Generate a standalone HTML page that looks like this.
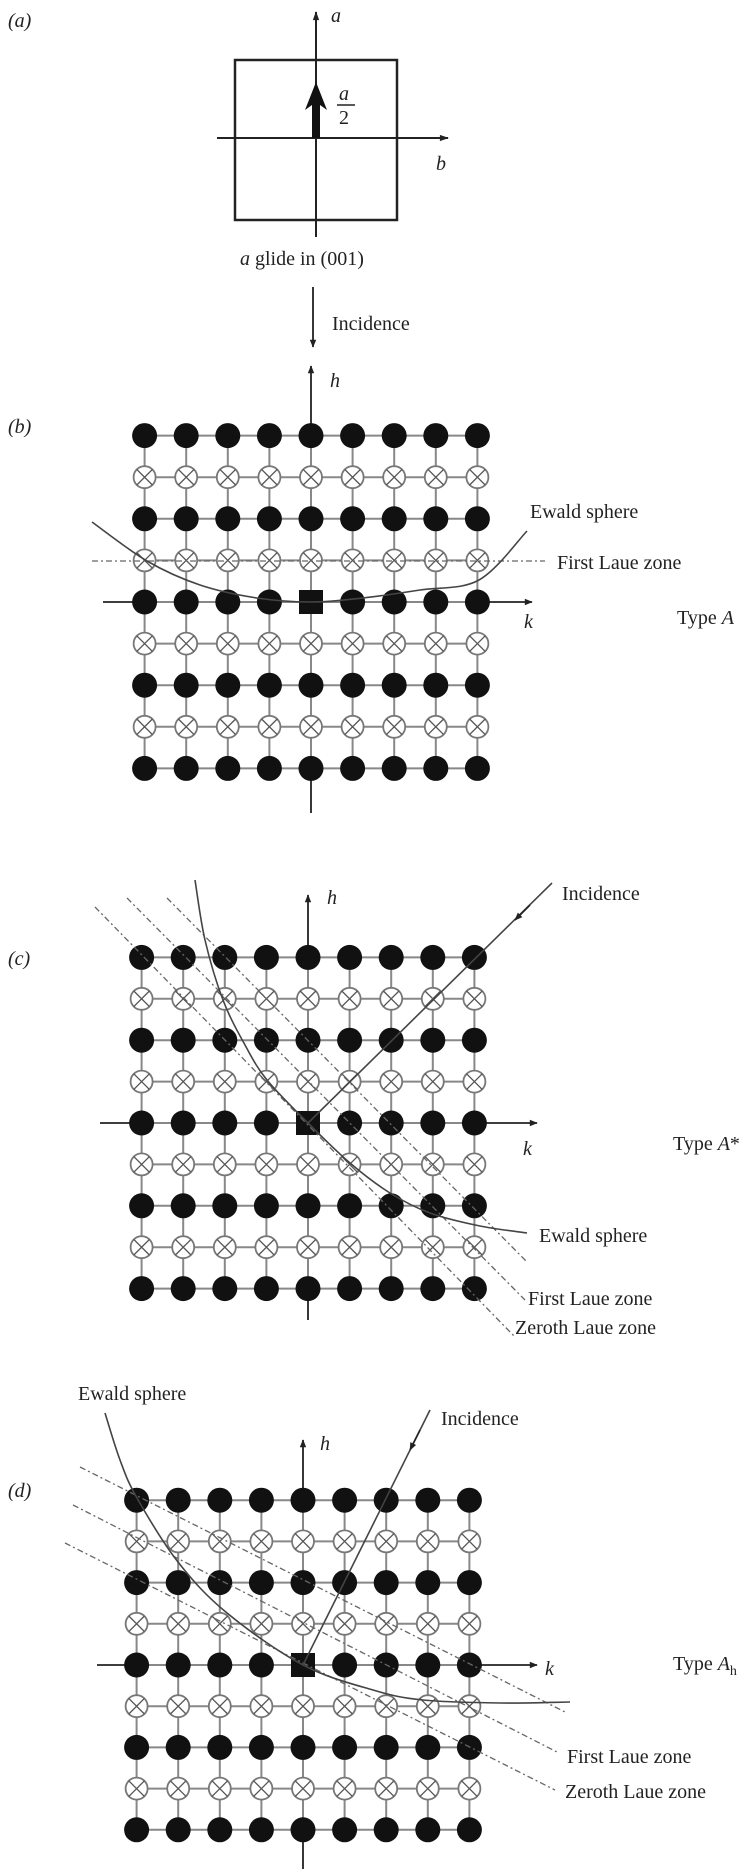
<!DOCTYPE html>
<html><head><meta charset="utf-8"><style>
html,body{margin:0;padding:0;background:#fff;}
svg{display:block;}
text{font-family:"Liberation Serif",serif;fill:#222;}
</style></head><body>
<svg id="fig" width="756" height="1869" viewBox="0 0 756 1869" xmlns="http://www.w3.org/2000/svg">
<defs>
<marker id="ah" viewBox="0 0 10 10" refX="9" refY="5" markerWidth="14" markerHeight="8" orient="auto" markerUnits="userSpaceOnUse"><path d="M0,1 L10,5 L0,9 Z" fill="#222"/></marker>
<marker id="ahs" viewBox="0 0 10 10" refX="9" refY="5" markerWidth="22" markerHeight="9" orient="auto" markerUnits="userSpaceOnUse"><path d="M0,1.5 L10,5 L0,8.5 Z" fill="#222"/></marker>
</defs>
<g>
<text x="8" y="27" font-size="20" font-style="italic">(a)</text>
<rect x="235" y="60" width="162" height="160" fill="none" stroke="#222" stroke-width="2.5"/>
<line x1="316" y1="237" x2="316" y2="12" stroke="#222" stroke-width="2" marker-end="url(#ahs)"/>
<line x1="217" y1="138" x2="448" y2="138" stroke="#222" stroke-width="2" marker-end="url(#ahs)"/>
<path d="M312,138 L312,105 L305,110 L316,82 L327,110 L320,105 L320,138 Z" fill="#111"/>
<text x="339" y="100" font-size="20" font-style="italic">a</text>
<line x1="337" y1="105" x2="355" y2="105" stroke="#222" stroke-width="1.5"/>
<text x="339" y="124" font-size="20">2</text>
<text x="331" y="22" font-size="20" font-style="italic">a</text>
<text x="436" y="170" font-size="20" font-style="italic">b</text>
<text x="240" y="265" font-size="20"><tspan font-style="italic">a</tspan> glide in (001)</text>
</g>
<g id="panels"></g>
</svg>
<script>
const panelNames = ['b','c','d'];
const centerX = [311, 308, 303];
const centerY = [602, 1123, 1665];
const spacingX = [41.6, 41.6, 41.6];
const spacingY = [41.6, 41.4, 41.2];
const gridN = 9;
const ewaldB = [[92,522],[147,561],[200,585],[257,598],[311,602],[363,598],[420,590],[479,580],[527,531]];
const ewaldC = [[195,880],[205,940],[223,1000],[245,1045],[267,1080],[308,1123],[350,1163],[390,1193],[430,1213],[480,1226],[527,1233]];
const ewaldD = [[105,1413],[120,1460],[137,1498],[178,1562],[227,1613],[303,1665],[373,1690],[423,1700],[500,1703],[570,1702]];
const laueB = [[92,561,545,561]];
const laueC = [[95,907,515,1337],[127,898,525,1300],[167,898,527,1262]];
const laueD = [[80,1467,567,1713],[73,1505,557,1752],[65,1543,555,1790]];

const NS='http://www.w3.org/2000/svg';
const root=document.getElementById('panels');
function mk(tag,attrs,parent){const e=document.createElementNS(NS,tag);for(const k in attrs)e.setAttribute(k,attrs[k]);(parent||root).appendChild(e);return e;}
function smooth(pts){let d='M'+pts[0][0]+','+pts[0][1];for(let i=0;i<pts.length-1;i++){const p0=pts[Math.max(0,i-1)],p1=pts[i],p2=pts[i+1],p3=pts[Math.min(pts.length-1,i+2)];const c1=[p1[0]+(p2[0]-p0[0])/6,p1[1]+(p2[1]-p0[1])/6],c2=[p2[0]-(p3[0]-p1[0])/6,p2[1]-(p3[1]-p1[1])/6];d+=` C${c1[0]},${c1[1]} ${c2[0]},${c2[1]} ${p2[0]},${p2[1]}`;}return d;}
function txt(x,y,s,name,italic,parent){const t=mk('text',{x:x,y:y,'font-size':20},parent);if(italic)t.setAttribute('font-style','italic');t.textContent=s;


return t;}

function grid(p,g){
  const cx=centerX[p],cy=centerY[p],sx=spacingX[p],sy=spacingY[p],h=(gridN-1)/2;
  const X=i=>cx+(i-h)*sx, Y=j=>cy+(j-h)*sy;
  for(let j=0;j<gridN;j++){const l=mk('line',{x1:X(0),y1:Y(j),x2:X(gridN-1),y2:Y(j),stroke:'#888','stroke-width':2},g);
    
    }
  for(let i=0;i<gridN;i++){const l=mk('line',{x1:X(i),y1:Y(0),x2:X(i),y2:Y(gridN-1),stroke:'#888','stroke-width':2},g);
    
    }
  for(let j=0;j<gridN;j++)for(let i=0;i<gridN;i++){
    const x=X(i),y=Y(j);
    if(j%2===0){
      if(i===h&&j===h){const r=mk('rect',{x:x-12,y:y-12,width:24,height:24,fill:'#111'},g);
        
        }
      else{const c=mk('circle',{cx:x,cy:y,r:12.5,fill:'#111'},g);
        
        }
    }else{
      const gg=mk('g',{},g);
      
      
      mk('circle',{cx:x,cy:y,r:11,fill:'#fff',stroke:'#777','stroke-width':1.8},gg);
      const d=7.8;
      mk('path',{d:`M${x-d},${y-d}L${x+d},${y+d}M${x+d},${y-d}L${x-d},${y+d}`,stroke:'#555','stroke-width':1.3},gg);
    }
  }
}
function panel(p){
  const g=mk('g',{});
  
  
  return g;
}
let g=panel(0);
let a=mk('line',{x1:313,y1:287,x2:313,y2:347,stroke:'#222','stroke-width':1.8,'marker-end':'url(#ah)'},g);


a=mk('line',{x1:311,y1:813,x2:311,y2:366,stroke:'#222','stroke-width':1.8,'marker-end':'url(#ah)'},g);


a=mk('line',{x1:103,y1:602,x2:532,y2:602,stroke:'#222','stroke-width':1.8,'marker-end':'url(#ah)'},g);


grid(0,g);
laueB.forEach(l=>{const e=mk('line',{x1:l[0],y1:l[1],x2:l[2],y2:l[3],stroke:'#666','stroke-width':1.3,'stroke-dasharray':'6,3,2,3'},g);
  
  });
a=mk('path',{d:smooth(ewaldB),fill:'none',stroke:'#444','stroke-width':1.6},g);


txt(8,433,'(b)','label-b',true,g);
txt(332,330,'Incidence','incidence-label',false,g);
txt(330,387,'h','h-axis-label',true,g);
txt(524,628,'k','k-axis-label',true,g);
txt(530,518,'Ewald sphere','ewald-sphere-label',false,g);
txt(557,569,'First Laue zone','first-laue-zone-label',false,g);
const tA=txt(677,624,'Type ','type-label',false,g);const ts=mk('tspan',{'font-style':'italic'},tA);ts.textContent='A';

g=panel(1);
a=mk('line',{x1:308,y1:1320,x2:308,y2:895,stroke:'#222','stroke-width':1.8,'marker-end':'url(#ah)'},g);


a=mk('line',{x1:100,y1:1123,x2:537,y2:1123,stroke:'#222','stroke-width':1.8,'marker-end':'url(#ah)'},g);


grid(1,g);
laueC.forEach(l=>{const e=mk('line',{x1:l[0],y1:l[1],x2:l[2],y2:l[3],stroke:'#666','stroke-width':1.3,'stroke-dasharray':'6,3,2,3'},g);
  
  });
a=mk('path',{d:smooth(ewaldC),fill:'none',stroke:'#444','stroke-width':1.6},g);


a=mk('line',{x1:552,y1:883,x2:308,y2:1123,stroke:'#444','stroke-width':1.6},g);


a=mk('line',{x1:530,y1:905,x2:515,y2:920,stroke:'#222','stroke-width':1.6,'marker-end':'url(#ah)'},g);


txt(8,965,'(c)','label-c',true,g);
txt(327,904,'h','h-axis-label',true,g);
txt(523,1155,'k','k-axis-label',true,g);
txt(562,900,'Incidence','incidence-label',false,g);
txt(539,1242,'Ewald sphere','ewald-sphere-label',false,g);
txt(528,1305,'First Laue zone','first-laue-zone-label',false,g);
txt(515,1334,'Zeroth Laue zone','zeroth-laue-zone-label',false,g);
const tC=txt(673,1150,'Type ','type-label',false,g);const tsc=mk('tspan',{'font-style':'italic'},tC);tsc.textContent='A';const tsc2=mk('tspan',{},tC);tsc2.textContent='*';

g=panel(2);
a=mk('line',{x1:303,y1:1869,x2:303,y2:1440,stroke:'#222','stroke-width':1.8,'marker-end':'url(#ah)'},g);


a=mk('line',{x1:97,y1:1665,x2:537,y2:1665,stroke:'#222','stroke-width':1.8,'marker-end':'url(#ah)'},g);


grid(2,g);
laueD.forEach(l=>{const e=mk('line',{x1:l[0],y1:l[1],x2:l[2],y2:l[3],stroke:'#666','stroke-width':1.3,'stroke-dasharray':'6,3,2,3'},g);
  
  });
a=mk('path',{d:smooth(ewaldD),fill:'none',stroke:'#444','stroke-width':1.6},g);


a=mk('line',{x1:430,y1:1410,x2:303,y2:1665,stroke:'#444','stroke-width':1.6},g);


a=mk('line',{x1:420,y1:1430,x2:410,y2:1450,stroke:'#222','stroke-width':1.6,'marker-end':'url(#ah)'},g);


txt(8,1497,'(d)','label-d',true,g);
txt(320,1450,'h','h-axis-label',true,g);
txt(545,1675,'k','k-axis-label',true,g);
txt(441,1425,'Incidence','incidence-label',false,g);
txt(78,1400,'Ewald sphere','ewald-sphere-label',false,g);
txt(567,1763,'First Laue zone','first-laue-zone-label',false,g);
txt(565,1798,'Zeroth Laue zone','zeroth-laue-zone-label',false,g);
const tD=txt(673,1670,'Type ','type-label',false,g);const tsd=mk('tspan',{'font-style':'italic'},tD);tsd.textContent='A';const tsd2=mk('tspan',{'font-size':14,dy:5},tD);tsd2.textContent='h';
</script>
</body></html>
